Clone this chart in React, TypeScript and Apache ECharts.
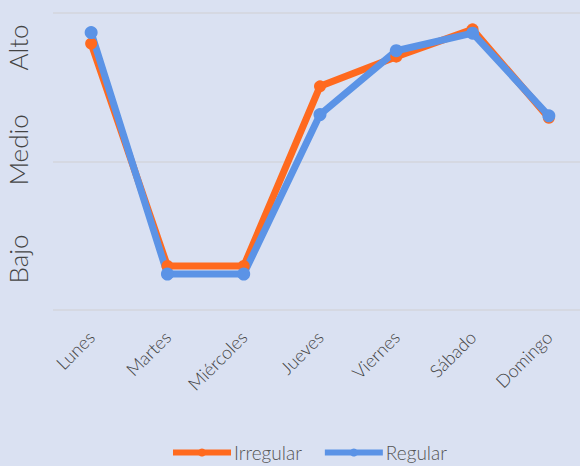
import React, { useEffect, useRef } from "react";
import * as echarts from "echarts";

const days = ["Lunes", "Martes", "Miércoles", "Jueves", "Viernes", "Sábado", "Domingo"];
const irregular = [89.7, 14.8, 14.8, 75.3, 85.3, 94.5, 64.7];
const regular = [93.4, 12.1, 12.1, 65.8, 87.3, 93.2, 65.4];
const levelNames = ["Bajo", "Medio", "Alto"];
const levelPositions = [17.2, 53.9, 88.4];

export default function App() {
  const ref = useRef<HTMLDivElement>(null);
  useEffect(() => {
    if (!ref.current) return;
    const chart = echarts.init(ref.current, null, { renderer: "svg" });
    const font = "Lato";
    chart.setOption({
      animation: false,
      backgroundColor: "#dae1f2",
      grid: { left: 53, top: 13, width: 534, height: 297, outerBoundsMode: "none", containLabel: false },
      legend: {
        top: 438,
        left: 165,
        itemWidth: 58,
        itemHeight: 10,
        itemGap: 20,
        lineStyle: { width: 6 },
        textStyle: { fontFamily: font, fontSize: 19, color: "#555", fontWeight: 300, padding: [0, 0, 0, -2] },
        data: ["Irregular", "Regular"],
      },
      xAxis: {
        type: "category",
        data: days,
        boundaryGap: true,
        axisLine: { show: false },
        axisTick: { show: false },
        axisLabel: {
          rotate: 45,
          interval: 0,
          margin: 24,
          fontFamily: font,
          fontSize: 18,
          fontWeight: 300,
          color: "#444",
        },
      },
      yAxis: {
        type: "value",
        min: 0,
        max: 100,
        interval: 50,
        axisLine: { show: false },
        axisTick: { show: false },
        splitLine: { lineStyle: { color: "#d3d5dc", width: 1.5 } },
        axisLabel: {
          customValues: levelPositions,
          rotate: 90,
          margin: 22,
          fontFamily: font,
          fontSize: 26,
          fontWeight: 300,
          color: "#444",
          formatter: (v: number) => {
            const i = levelPositions.findIndex((p) => Math.abs(p - v) < 0.01);
            return i >= 0 ? levelNames[i] : "";
          },
        },
      },
      series: [
        {
          name: "Irregular",
          type: "line",
          data: irregular,
          color: "#ff6a1f",
          symbol: "circle",
          symbolSize: 12,
          lineStyle: { width: 7 },
        },
        {
          name: "Regular",
          type: "line",
          data: regular,
          color: "#5b93e6",
          symbol: "circle",
          symbolSize: 13,
          lineStyle: { width: 7 },
        },
      ],
    });
    return () => chart.dispose();
  }, []);
  return (
    <div
      ref={ref}
      style={{ position: "absolute", left: 0, top: 0, width: 580, height: 466 }}
    />
  );
}
